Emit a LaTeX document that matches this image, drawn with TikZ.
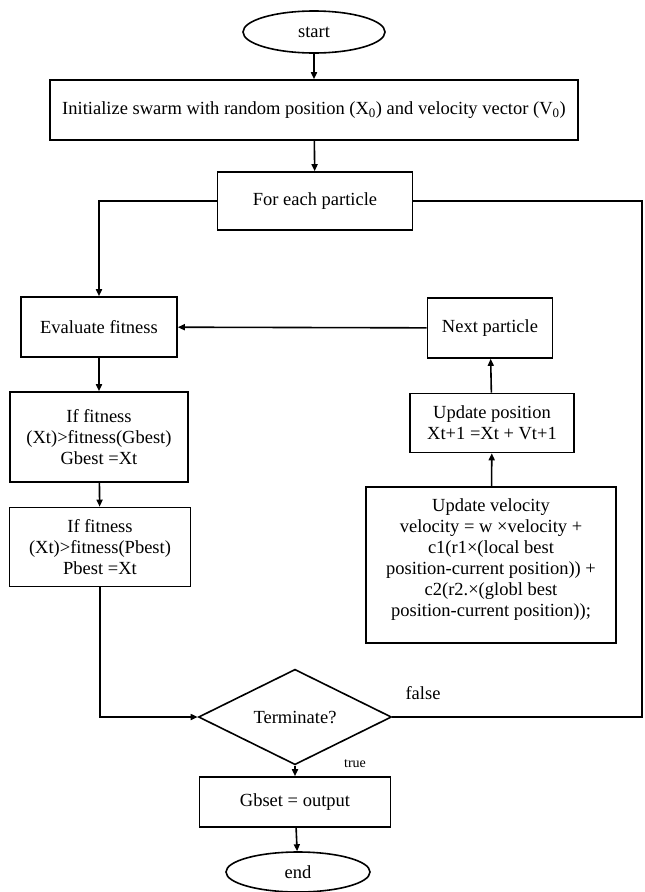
\documentclass[tikz,border=0pt]{standalone}
\usepackage{fontspec}
\setmainfont{Liberation Serif}
\usetikzlibrary{shapes.geometric,arrows.meta}
\begin{document}
\begin{tikzpicture}[x=1pt,y=-1pt,
  box/.style={draw,line width=1.6pt,align=center,inner sep=0pt,font=\fontsize{18.5}{21}\selectfont},
  conn/.style={line width=1.6pt},
  arr/.style={conn,-{Triangle[length=7pt,width=6pt]}},
  lbl/.style={font=\fontsize{18.5}{21}\selectfont}]
\useasboundingbox (0,0) rectangle (645,892);
\node[box,ellipse,minimum width=142pt,minimum height=42pt] (start) at (314,32) {start};
\node[box,minimum width=528pt,minimum height=60pt] (init) at (314,110) {Initialize swarm with random position (X\textsubscript{0}) and velocity vector (V\textsubscript{0})};
\node[box,minimum width=195pt,minimum height=58pt] (for) at (315,201) {For each particle};
\node[box,minimum width=156pt,minimum height=60pt] (eval) at (99,327) {Evaluate fitness};
\node[box,minimum width=178pt,minimum height=90pt] (gbest) at (99,437) {If fitness\\(Xt)>fitness(Gbest)\\Gbest =Xt};
\node[box,minimum width=181pt,minimum height=79pt] (pbest) at (100,547) {If fitness\\(Xt)>fitness(Pbest)\\Pbest =Xt};
\node[box,diamond,minimum width=193pt,minimum height=74pt] (term) at (295,717) {Terminate?};
\node[box,minimum width=191pt,minimum height=50pt] (out) at (295,802) {Gbset = output};
\node[box,ellipse,minimum width=144pt,minimum height=40pt] (end) at (298,872) {end};
\node[box,minimum width=125pt,minimum height=60pt] (next) at (490,328) {Next particle};
\node[box,minimum width=164pt,minimum height=59pt] (upos) at (492,423) {Update position\\Xt+1 =Xt + Vt+1};
\node[box,minimum width=250pt,minimum height=156pt] (uvel) at (491,565) {};
\node[box,draw=none] (uveltxt) at (491,560) {Update velocity\\velocity = w ×velocity +\\c1(r1×(local best\\position-current position)) +\\c2(r2.×(globl best\\position-current position));};
\node[lbl] (false) at (423,693) {false};
\node[font=\fontsize{14}{16}\selectfont] (true) at (355,764) {true};
\coordinate (lt) at (99,201);
\coordinate (lb) at (100,717);
\coordinate (rt) at (642,201);
\coordinate (rb) at (642,717);
\draw[arr] (start) -- (init);
\draw[arr] (init) -- (for);
\draw[arr] (for.west) -- (lt) -- (eval.north);
\draw[arr] (eval) -- (gbest);
\draw[arr] (gbest) -- (pbest);
\draw[arr] (pbest.south) -- (lb) -- (term.west);
\draw[conn] (term.east) -- (rb) -- (rt) -- (for.east);
\draw[arr] (term) -- (out);
\draw[arr] (out) -- (end);
\draw[arr] (next) -- (eval);
\draw[arr] (upos) -- (next);
\draw[arr] (uvel) -- (upos);
\end{tikzpicture}
\end{document}
